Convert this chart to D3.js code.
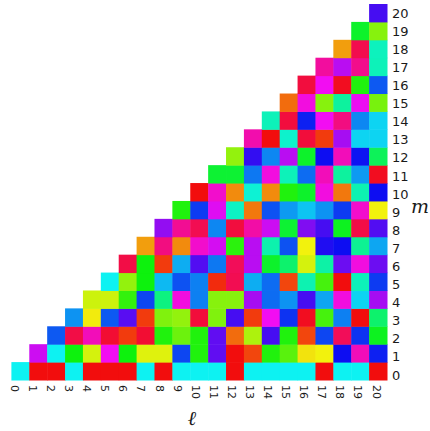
<!DOCTYPE html>
<html><head><meta charset="utf-8">
<script src="https://cdn.jsdelivr.net/npm/d3@7"></script>
<style>html,body{margin:0;padding:0;background:#fff;overflow:hidden}</style>
</head><body><svg id="c" width="430" height="431"></svg>
<script>
// tick labels
const ellLabels = ["0","1","2","3","4","5","6","7","8","9","10","11","12","13","14","15","16","17","18","19","20"];
const mLabels   = ["0","1","2","3","4","5","6","7","8","9","10","11","12","13","14","15","16","17","18","19","20"];

// phase (hue, degrees) of each cell; rowM lists values for ell = m .. 20
const row0  = [180,0,0,180,0,0,0,180,0,180,180,180,0,180,180,180,180,0,180,180,0];
const row1  = [290,180,120,68,300,120,65,65,225,115,262,0,15,115,100,56,60,240,315,235];
const row2  = [220,345,315,350,12,350,115,95,115,262,25,78,255,115,15,225,340,230,125];
const row3  = [205,58,220,260,12,90,85,348,90,255,12,300,230,355,105,210,0,145];
const row4  = [70,70,110,225,150,305,210,88,88,280,215,205,255,200,305,188,280];
const row5  = [180,85,120,195,222,210,8,342,198,215,15,163,105,0,165,228];
const row6  = [345,120,12,198,258,212,340,285,128,145,68,160,265,305,265];
const row7  = [38,330,33,310,292,112,285,162,222,60,245,240,155,200];
const row8  = [275,325,342,208,347,320,290,130,270,255,125,345,258];
const row9  = [115,228,295,168,28,222,203,192,205,228,310,60];
const row10 = [0,310,33,172,33,115,128,305,28,163,240];
const row11 = [130,130,212,305,165,215,315,158,203,355];
const row12 = [85,250,208,285,128,240,315,238,140];
const row13 = [318,0,170,348,12,280,188,188];
const row14 = [165,347,235,300,330,208,188];
const row15 = [25,305,88,158,298,92];
const row16 = [347,300,355,115,220];
const row17 = [322,285,327,165];
const row18 = [38,343,166];
const row19 = [128,88];
const row20 = [255];

const rows = [row0,row1,row2,row3,row4,row5,row6,row7,row8,row9,row10,
              row11,row12,row13,row14,row15,row16,row17,row18,row19,row20];

const cells = [];
rows.forEach((r, m) => r.forEach((h, i) => cells.push({l: m + i, m: m, h: h})));

const svg = d3.select("#c");
const x = d3.scaleBand().domain(d3.range(21)).range([11.4, 387]);
const y = d3.scaleBand().domain(d3.range(21)).range([380, 4]);
const bw = x.bandwidth(), bh = y.bandwidth();
const color = h => d3.hsl(h, 0.9, 0.5).toString();

svg.append("g").selectAll("rect").data(cells).join("rect")
  .attr("x", d => x(d.l))
  .attr("y", d => y(d.m))
  .attr("width", bw + 0.5)
  .attr("height", bh + 0.5)
  .attr("fill", d => color(d.h));

const xLab = d3.scaleLinear().domain([0, 20]).range([x(0) + bw/2 - 6, x(20) + bw/2 - 2]);
const yLab = d3.scaleLinear().domain([0, 20]).range([y(0) + bh/2 + 4, y(20) + bh/2 + 0.3]);

svg.append("g").selectAll("text").data(ellLabels).join("text")
  .attr("transform", (d, i) => `translate(${xLab(i)},385) rotate(90)`)
  .attr("text-anchor", "start")
  .attr("dominant-baseline", "central")
  .attr("font-family", "DejaVu Sans")
  .attr("font-size", 11)
  .attr("fill", "#1a1a1a")
  .text(d => d);

svg.append("g").selectAll("text").data(mLabels).join("text")
  .attr("x", 392)
  .attr("y", (d, i) => yLab(i))
  .attr("dominant-baseline", "central")
  .attr("font-family", "DejaVu Sans")
  .attr("font-size", 13)
  .attr("fill", "#1a1a1a")
  .text(d => d);

svg.append("text")
  .attr("x", 192).attr("y", 425)
  .attr("text-anchor", "middle")
  .attr("font-family", "DejaVu Serif")
  .attr("font-style", "italic")
  .attr("font-size", 20)
  .attr("fill", "#1a1a1a")
  .text("ℓ");

svg.append("text")
  .attr("x", 411).attr("y", 213)
  .attr("font-family", "DejaVu Serif")
  .attr("font-style", "italic")
  .attr("font-size", 19)
  .attr("fill", "#1a1a1a")
  .text("m");
</script>
</body></html>
